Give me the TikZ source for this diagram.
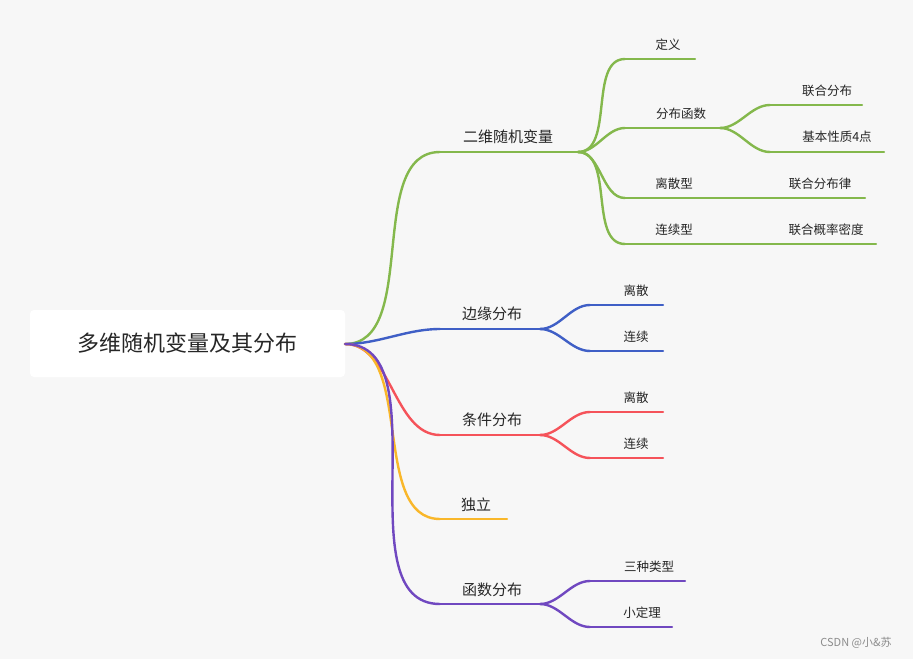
\documentclass[tikz,border=0pt]{standalone}
\usepackage{fontspec}
\setmainfont{Noto Sans CJK SC}
\definecolor{bg}{HTML}{F7F7F7}
\definecolor{cg}{HTML}{84B84C}
\definecolor{cb}{HTML}{3F5FC6}
\definecolor{cr}{HTML}{F5535A}
\definecolor{co}{HTML}{F9B72A}
\definecolor{cp}{HTML}{7048C0}
\tikzset{
 br/.style={line width=2.4pt,line cap=round},
 cv/.style={br,out=0,in=180,looseness=0.9},
 l1/.style={font=\fontsize{15}{17}\selectfont,text=black!85,inner sep=0},
 l2/.style={font=\fontsize{12.5}{14}\selectfont,text=black!85,inner sep=0},
}
\begin{document}
\begin{tikzpicture}[x=1pt,y=-1pt]
\fill[bg] (0,0) rectangle (913,659);
\useasboundingbox (0,0) rectangle (913,659);
\node[fill=white,rounded corners=4pt,minimum width=315pt,minimum height=67pt,inner sep=0] (root) at (187.5,343.5) {};
\node[font=\fontsize{22}{24}\selectfont,text=black!85] (roott) at (187.5,343.5) {多维随机变量及其分布};
\coordinate (r) at (345,344);
% level 1
\coordinate (a0) at (440,152); \coordinate (a1) at (578,152);
\coordinate (b0) at (440,329); \coordinate (b1) at (540,329);
\coordinate (c0) at (440,435); \coordinate (c1) at (540,435);
\coordinate (d0) at (440,519); \coordinate (d1) at (507,519);
\coordinate (e0) at (440,604); \coordinate (e1) at (540,604);
\draw[cv,cg] (r) to (a0); \draw[br,cg] (a0)--(a1);
\draw[cv,cb] (r) to (b0); \draw[br,cb] (b0)--(b1);
\draw[cv,cr] (r) to (c0); \draw[br,cr] (c0)--(c1);
\draw[cv,co] (r) to (d0); \draw[br,co] (d0)--(d1);
\draw[cv,cp] (r) to (e0); \draw[br,cp] (e0)--(e1);
\node[l1] (ta) at (508,137) {二维随机变量};
\node[l1] (tb) at (492,314) {边缘分布};
\node[l1] (tc) at (492,420) {条件分布};
\node[l1] (td) at (476,505) {独立};
\node[l1] (te) at (492,590) {函数分布};
% green sub
\coordinate (g10) at (625,59); \coordinate (g11) at (695,59);
\coordinate (g20) at (625,128); \coordinate (g21) at (720,128);
\coordinate (g30) at (625,198); \coordinate (g31) at (720,198);
\coordinate (g40) at (625,244); \coordinate (g41) at (720,244);
\foreach \i in {1,2,3,4}{\draw[cv,cg] (a1) to (g\i0); \draw[br,cg] (g\i0)--(g\i1);}
\node[l2] (tg1) at (668,45) {定义};
\node[l2] (tg2) at (681,114) {分布函数};
\node[l2] (tg3) at (674,184) {离散型};
\node[l2] (tg4) at (674,230) {连续型};
\coordinate (h10) at (770,105); \coordinate (h11) at (862,105);
\coordinate (h20) at (770,152); \coordinate (h21) at (884,152);
\draw[cv,cg] (g21) to (h10); \draw[br,cg] (h10)--(h11);
\draw[cv,cg] (g21) to (h20); \draw[br,cg] (h20)--(h21);
\coordinate (h31) at (865,198); \coordinate (h41) at (876,244);
\draw[br,cg] (g31)--(h31); \draw[br,cg] (g41)--(h41);
\node[l2] (th1) at (827,91) {联合分布};
\node[l2] (th2) at (837,137) {基本性质4点};
\node[l2] (th3) at (820,184) {联合分布律};
\node[l2] (th4) at (826,230) {联合概率密度};
% blue
\coordinate (b10) at (590,305); \coordinate (b11) at (663,305);
\coordinate (b20) at (590,351); \coordinate (b21) at (663,351);
\draw[cv,cb] (b1) to (b10); \draw[br,cb] (b10)--(b11);
\draw[cv,cb] (b1) to (b20); \draw[br,cb] (b20)--(b21);
\node[l2] (tb1) at (636,291) {离散};
\node[l2] (tb2) at (636,337) {连续};
% red
\coordinate (c10) at (590,412); \coordinate (c11) at (663,412);
\coordinate (c20) at (590,458); \coordinate (c21) at (663,458);
\draw[cv,cr] (c1) to (c10); \draw[br,cr] (c10)--(c11);
\draw[cv,cr] (c1) to (c20); \draw[br,cr] (c20)--(c21);
\node[l2] (tc1) at (636,398) {离散};
\node[l2] (tc2) at (636,444) {连续};
% purple
\coordinate (e10) at (590,581); \coordinate (e11) at (685,581);
\coordinate (e20) at (590,627); \coordinate (e21) at (672,627);
\draw[cv,cp] (e1) to (e10); \draw[br,cp] (e10)--(e11);
\draw[cv,cp] (e1) to (e20); \draw[br,cp] (e20)--(e21);
\node[l2] (te1) at (649,567) {三种类型};
\node[l2] (te2) at (642,613) {小定理};
\node[font=\fontsize{11}{12}\selectfont,text=black!45,inner sep=0] (wm) at (856,643) {CSDN @小\&苏};
\end{tikzpicture}
\end{document}
